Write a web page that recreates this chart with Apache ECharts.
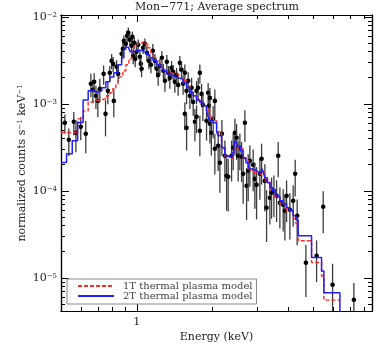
<!DOCTYPE html>
<html>
<head>
<meta charset="utf-8">
<script src="https://cdn.jsdelivr.net/npm/echarts@6/dist/echarts.min.js"></script>
<style>
  html, body { margin: 0; padding: 0; background: #fff; }
  #chart { width: 382px; height: 344px; }
</style>
</head>
<body>
<div id="chart"></div>
<script>
// observed spectrum (keV, counts s^-1 keV^-1, 1-sigma error)
const energy = [
  0.518, 0.537, 0.562, 0.573, 0.599, 0.627, 0.657, 0.669, 0.677, 0.688,
  0.700, 0.713, 0.738, 0.751, 0.767, 0.781, 0.794, 0.805, 0.810, 0.831,
  0.843, 0.870, 0.880, 0.888, 0.904, 0.915, 0.925, 0.938, 0.953, 0.960,
  0.967, 0.977, 0.985, 0.997, 1.012, 1.028, 1.037, 1.044, 1.059, 1.076,
  1.096, 1.116, 1.137, 1.157, 1.179, 1.200, 1.215, 1.234, 1.257, 1.274,
  1.292, 1.315, 1.334, 1.352, 1.373, 1.393, 1.415, 1.437, 1.458, 1.481,
  1.504, 1.526, 1.550, 1.550, 1.575, 1.575, 1.598, 1.623, 1.649, 1.673,
  1.699, 1.725, 1.725, 1.751, 1.778, 1.778, 1.806, 1.828, 1.890, 1.918,
  1.931, 1.949, 1.949, 1.975, 2.008, 2.039, 2.039, 2.102, 2.135, 2.175,
  2.235, 2.270, 2.303, 2.376, 2.411, 2.449, 2.487, 2.523, 2.563, 2.603,
  2.641, 2.683, 2.725, 2.765, 2.808, 2.894, 2.939, 2.985, 3.077, 3.125,
  3.220, 3.271, 3.371, 3.423, 3.497, 3.584, 3.637, 3.694, 3.807, 3.867,
  3.927, 4.047, 4.171, 4.248, 4.326, 4.685, 5.166, 5.487, 5.978, 7.262
];
const flux = [
  6.05e-4, 3.86e-4, 6.21e-4, 4.64e-4, 5.44e-4, 4.52e-4, 1.70e-3, 1.45e-3, 1.79e-3, 1.24e-3,
  1.08e-3, 1.49e-3, 2.21e-3, 7.67e-4, 1.41e-3, 2.27e-3, 3.12e-3, 2.88e-3, 1.08e-3, 2.66e-3,
  2.21e-3, 3.76e-3, 4.29e-3, 5.30e-3, 4.89e-3, 6.05e-3, 6.55e-3, 5.44e-3, 4.64e-3, 5.89e-3,
  3.56e-3, 5.03e-3, 3.29e-3, 3.96e-3, 4.77e-3, 3.47e-3, 2.88e-3, 2.53e-3, 4.40e-3, 4.89e-3,
  3.86e-3, 3.12e-3, 2.81e-3, 4.07e-3, 3.12e-3, 2.53e-3, 2.15e-3, 2.73e-3, 3.38e-3, 2.40e-3,
  1.84e-3, 3.04e-3, 2.27e-3, 1.99e-3, 2.59e-3, 2.33e-3, 1.79e-3, 2.15e-3, 1.65e-3, 2.96e-3,
  2.46e-3, 1.70e-3, 2.27e-3, 7.67e-4, 1.41e-3, 5.30e-4, 1.84e-3, 1.24e-3, 1.53e-3, 1.05e-3,
  6.21e-4, 1.41e-3, 7.09e-4, 1.53e-3, 2.27e-3, 4.89e-4, 1.30e-3, 9.74e-4, 6.38e-4, 1.34e-3,
  9.48e-4, 5.89e-4, 1.17e-3, 4.64e-4, 6.72e-4, 1.08e-3, 3.04e-4, 3.29e-4, 2.10e-4, 4.52e-4,
  2.53e-4, 1.49e-4, 1.45e-4, 2.53e-4, 3.12e-4, 4.64e-4, 4.07e-4, 2.53e-4, 3.12e-4, 2.46e-4,
  1.57e-4, 6.05e-4, 1.14e-4, 1.70e-4, 2.21e-4, 1.99e-4, 1.37e-4, 1.17e-4, 1.57e-4, 2.33e-4,
  1.30e-4, 6.38e-5, 8.31e-5, 9.48e-5, 1.00e-4, 8.76e-5, 2.53e-4, 7.28e-5, 6.90e-5, 5.89e-5,
  8.76e-5, 6.05e-5, 7.67e-5, 1.57e-4, 5.16e-5, 1.49e-5, 1.79e-5, 6.55e-5, 8.31e-6, 5.59e-6
];
const fluxErr = [
  1.51e-4, 1.35e-4, 1.86e-4, 1.86e-4, 1.63e-4, 1.81e-4, 5.1e-4, 4.35e-4, 4.5e-4, 3.7e-4,
  3.8e-4, 4.5e-4, 5.5e-4, 3.45e-4, 4.2e-4, 4.5e-4, 6.2e-4, 5.8e-4, 3.8e-4, 5.3e-4,
  4.4e-4, 7.5e-4, 8.6e-4, 8.0e-4, 7.3e-4, 9.1e-4, 9.8e-4, 8.2e-4, 7.0e-4, 8.8e-4,
  7.1e-4, 7.5e-4, 6.6e-4, 5.9e-4, 7.2e-4, 6.9e-4, 5.8e-4, 5.1e-4, 6.6e-4, 7.3e-4,
  7.7e-4, 6.2e-4, 5.6e-4, 8.1e-4, 6.2e-4, 5.1e-4, 5.4e-4, 5.5e-4, 6.8e-4, 4.8e-4,
  4.6e-4, 6.1e-4, 4.5e-4, 5.0e-4, 5.2e-4, 4.7e-4, 4.5e-4, 4.3e-4, 4.1e-4, 5.9e-4,
  4.9e-4, 4.3e-4, 5.7e-4, 2.7e-4, 4.2e-4, 2.4e-4, 4.6e-4, 3.7e-4, 4.6e-4, 3.2e-4,
  2.5e-4, 4.2e-4, 2.5e-4, 4.6e-4, 5.7e-4, 2.4e-4, 3.9e-4, 3.4e-4, 2.6e-4, 4.0e-4,
  3.3e-4, 2.4e-4, 3.5e-4, 2.1e-4, 2.7e-4, 3.8e-4, 1.5e-4, 1.6e-4, 1.15e-4, 2.0e-4,
  1.25e-4, 9.0e-5, 8.7e-5, 1.25e-4, 1.4e-4, 2.1e-4, 1.8e-4, 1.25e-4, 1.4e-4, 1.2e-4,
  8.6e-5, 2.4e-4, 6.8e-5, 9.4e-5, 1.1e-4, 1.0e-4, 7.5e-5, 7.0e-5, 7.8e-5, 1.15e-4,
  7.2e-5, 3.8e-5, 4.2e-5, 4.7e-5, 5.0e-5, 4.4e-5, 1.1e-4, 3.6e-5, 3.5e-5, 3.2e-5,
  4.4e-5, 3.3e-5, 3.8e-5, 7.1e-5, 2.8e-5, 8.9e-6, 9.0e-6, 3.3e-5, 6.2e-6, 3.1e-6
];

// 1T model, left bin edges (keV) and level
const model1Energy = [
  0.5, 0.582, 0.612, 0.641, 0.663, 0.694, 0.726, 0.758, 0.781, 0.803,
  0.825, 0.841, 0.856, 0.880, 0.904, 0.930, 0.953, 0.969, 0.982, 1.005,
  1.028, 1.066, 1.086, 1.109, 1.137, 1.161, 1.190, 1.234, 1.272, 1.312,
  1.352, 1.393, 1.428, 1.458, 1.481, 1.526, 1.575, 1.623, 1.673, 1.725,
  1.778, 1.833, 1.890, 1.949, 2.008, 2.072, 2.168, 2.235, 2.339, 2.404,
  2.449, 2.523, 2.641, 2.765, 2.894, 3.029, 3.125, 3.220, 3.371, 3.529,
  3.694, 3.927, 4.171, 4.276, 4.366, 4.934, 5.406, 5.522, 6.392
];
const model1Flux = [
  4.68e-4, 6.72e-4, 8.30e-4, 1.05e-3, 1.10e-3, 1.11e-3, 1.16e-3, 1.24e-3, 1.34e-3, 1.49e-3,
  1.65e-3, 1.84e-3, 2.04e-3, 2.40e-3, 2.81e-3, 3.29e-3, 3.76e-3, 4.29e-3, 4.64e-3, 4.96e-3,
  5.16e-3, 5.16e-3, 4.83e-3, 4.40e-3, 3.86e-3, 3.41e-3, 3.08e-3, 2.73e-3, 2.46e-3, 2.33e-3,
  2.24e-3, 2.24e-3, 2.18e-3, 2.10e-3, 1.99e-3, 1.84e-3, 1.61e-3, 1.36e-3, 1.24e-3, 1.14e-3,
  1.03e-3, 9.48e-4, 8.31e-4, 7.09e-4, 6.38e-4, 4.77e-4, 3.04e-4, 2.46e-4, 2.33e-4, 2.73e-4,
  3.47e-4, 3.04e-4, 2.33e-4, 1.74e-4, 1.61e-4, 1.53e-4, 1.65e-4, 1.30e-4, 1.03e-4, 8.53e-5,
  7.09e-5, 5.89e-5, 4.77e-5, 4.18e-5, 2.66e-5, 1.50e-5, 1.05e-5, 5.54e-6, 5.54e-6
];

// 2T model
const model2Energy = [
  0.5, 0.526, 0.554, 0.582, 0.612, 0.641, 0.669, 0.700, 0.726, 0.753,
  0.781, 0.810, 0.841, 0.870, 0.888, 0.904, 0.925, 0.942, 0.964, 1.0,
  1.028, 1.056, 1.096, 1.126, 1.161, 1.200, 1.234, 1.272, 1.312, 1.352,
  1.393, 1.441, 1.481, 1.526, 1.575, 1.623, 1.673, 1.725, 1.778, 1.833,
  1.890, 1.918, 1.949, 2.008, 2.072, 2.102, 2.168, 2.235, 2.297, 2.339,
  2.382, 2.426, 2.449, 2.482, 2.523, 2.575, 2.641, 2.707, 2.765, 2.808,
  2.894, 2.985, 3.049, 3.125, 3.162, 3.220, 3.295, 3.371, 3.45, 3.529,
  3.611, 3.694, 3.797, 3.927, 4.047, 4.171, 4.276, 4.366, 4.934, 5.406,
  5.522, 6.392
];
const model2Flux = [
  2.12e-4, 2.66e-4, 3.76e-4, 6.10e-4, 1.11e-3, 1.41e-3, 1.36e-3, 1.41e-3, 1.53e-3, 1.79e-3,
  2.04e-3, 2.27e-3, 2.81e-3, 3.38e-3, 4.18e-3, 4.46e-3, 4.40e-3, 3.96e-3, 4.07e-3, 4.12e-3,
  4.07e-3, 3.91e-3, 3.66e-3, 3.38e-3, 3.12e-3, 2.84e-3, 2.61e-3, 2.40e-3, 2.21e-3, 2.10e-3,
  2.02e-3, 1.96e-3, 1.91e-3, 1.74e-3, 1.54e-3, 1.36e-3, 1.24e-3, 1.11e-3, 1.05e-3, 9.48e-4,
  8.31e-4, 7.09e-4, 6.38e-4, 6.05e-4, 4.77e-4, 4.29e-4, 3.15e-4, 2.53e-4, 2.40e-4, 2.42e-4,
  2.73e-4, 3.29e-4, 3.76e-4, 3.56e-4, 3.20e-4, 2.88e-4, 2.40e-4, 2.10e-4, 1.89e-4, 1.78e-4,
  1.70e-4, 1.62e-4, 1.70e-4, 1.81e-4, 1.70e-4, 1.41e-4, 1.24e-4, 1.09e-4, 1.00e-4, 9.17e-5,
  8.53e-5, 7.67e-5, 7.09e-5, 6.38e-5, 5.89e-5, 5.16e-5, 4.64e-5, 3.04e-5, 1.71e-5, 1.20e-5,
  6.72e-6, 3.0e-6
];

// tick marks
const xMajorTicks = [1];
const xMinorTicks = [0.6, 0.7, 0.8, 0.9, 2, 3, 4, 5, 6, 7, 8];
const yMajorTicks = [1e-5, 1e-4, 1e-3, 1e-2];
const yMinorTicks = [
  5e-6, 6e-6, 7e-6, 8e-6, 9e-6,
  2e-5, 3e-5, 4e-5, 5e-5, 6e-5, 7e-5, 8e-5, 9e-5,
  2e-4, 3e-4, 4e-4, 5e-4, 6e-4, 7e-4, 8e-4, 9e-4,
  2e-3, 3e-3, 4e-3, 5e-3, 6e-3, 7e-3, 8e-3, 9e-3
];

const FONT = 'DejaVu Serif';
const X_MIN = 0.5, X_MAX = 8.57;
const Y_MIN = 4.15e-6, Y_MAX = 0.0105;

function xAxis(position, ticks, len, withLabel) {
  return {
    type: 'log', logBase: 10, min: X_MIN, max: X_MAX, position: position,
    axisLine: { show: true, onZero: false, lineStyle: { color: '#000', width: 1.2 } },
    splitLine: { show: false },
    axisTick: { show: true, inside: true, length: len, customValues: ticks,
      lineStyle: { color: '#000', width: 1 } },
    axisLabel: withLabel ? {
      show: true, customValues: xMajorTicks, margin: 6,
      fontFamily: FONT, fontSize: 11, color: '#222',
      formatter: v => (Math.abs(v - 1) < 1e-9 ? '1' : '')
    } : { show: false },
    name: withLabel ? 'Energy (keV)' : '',
    nameLocation: 'middle', nameGap: 21, nameMoveOverlap: false,
    nameTextStyle: { fontFamily: FONT, fontSize: 11, color: '#222' }
  };
}

function yAxis(position, ticks, len, withLabel) {
  return {
    type: 'log', logBase: 10, min: Y_MIN, max: Y_MAX, position: position,
    axisLine: { show: true, onZero: false, lineStyle: { color: '#000', width: 1.2 } },
    splitLine: { show: false },
    axisTick: { show: true, inside: true, length: len, customValues: ticks,
      lineStyle: { color: '#000', width: 1 } },
    axisLabel: withLabel ? {
      show: true, customValues: yMajorTicks, margin: 4,
      formatter: v => '{b|10}{s|−' + (-Math.round(Math.log10(v))) + '}',
      rich: {
        b: { fontFamily: FONT, fontSize: 11, color: '#222' },
        s: { fontFamily: FONT, fontSize: 7, color: '#222', verticalAlign: 'top' }
      }
    } : { show: false },
    name: withLabel ? 'normalized counts s{s|−1} keV{s|−1}' : '',
    nameLocation: 'middle', nameGap: 33, nameMoveOverlap: false,
    nameTextStyle: {
      fontFamily: FONT, fontSize: 11, color: '#222',
      rich: {
        s: { fontFamily: FONT, fontSize: 7, color: '#222', verticalAlign: 'top' }
      }
    }
  };
}

const points = energy.map((e, i) => [
  e, flux[i], Math.max(flux[i] - fluxErr[i], 1e-8), flux[i] + fluxErr[i]
]);

const chart = echarts.init(document.getElementById('chart'), null, { renderer: 'canvas' });

chart.setOption({
  animation: false,
  backgroundColor: '#fff',
  title: {
    text: 'Mon−771; Average spectrum',
    left: 135, top: 2, padding: 0,
    textStyle: { fontFamily: FONT, fontSize: 11, fontWeight: 'normal', color: '#222' }
  },
  grid: {
    left: 61, right: 10, top: 15, bottom: 33,
    containLabel: false, outerBoundsMode: 'none'
  },
  legend: {
    orient: 'vertical', left: 67, top: 279,
    itemWidth: 36, itemHeight: 9, itemGap: 0,
    padding: [2, 4, 3, 10],
    borderColor: '#888', borderWidth: 1, backgroundColor: '#fff',
    itemStyle: { opacity: 0 },
    textStyle: { fontFamily: FONT, fontSize: 10, color: '#444', lineHeight: 9, padding: [0, 0, 0, 4] },
    data: ['1T thermal plasma model', '2T thermal plasma model']
  },
  xAxis: [
    xAxis('bottom', xMajorTicks, 7, true),
    xAxis('bottom', xMinorTicks, 4, false),
    xAxis('top', xMajorTicks, 7, false),
    xAxis('top', xMinorTicks, 4, false)
  ],
  yAxis: [
    yAxis('left', yMajorTicks, 8, true),
    yAxis('left', yMinorTicks, 4, false),
    yAxis('right', yMajorTicks, 8, false),
    yAxis('right', yMinorTicks, 4, false)
  ],
  series: [
    {
      name: 'data',
      type: 'custom',
      xAxisIndex: 0, yAxisIndex: 0,
      clip: true,
      z: 2,
      encode: { x: 0, y: 1 },
      data: points,
      renderItem: (params, api) => {
        const p = api.coord([api.value(0), api.value(1)]);
        const lo = api.coord([api.value(0), api.value(2)]);
        const hi = api.coord([api.value(0), api.value(3)]);
        return {
          type: 'group',
          children: [
            { type: 'line', shape: { x1: p[0], y1: hi[1], x2: p[0], y2: lo[1] },
              style: { stroke: '#3c3c3c', lineWidth: 1.3 } },
            { type: 'circle', shape: { cx: p[0], cy: p[1], r: 2.3 },
              style: { fill: '#000' } }
          ]
        };
      }
    },
    {
      name: '1T thermal plasma model',
      type: 'line', step: 'end',
      xAxisIndex: 0, yAxisIndex: 0,
      symbol: 'none', z: 4,
      itemStyle: { color: '#ff2a2a' },
      lineStyle: { color: '#ff2a2a', width: 1.4, type: [4, 2] },
      data: model1Energy.map((e, i) => [e, model1Flux[i]])
    },
    {
      name: '2T thermal plasma model',
      type: 'line', step: 'end',
      xAxisIndex: 0, yAxisIndex: 0,
      symbol: 'none', z: 5,
      itemStyle: { color: '#1e1eff' },
      lineStyle: { color: '#1e1eff', width: 1.5 },
      data: model2Energy.map((e, i) => [e, model2Flux[i]])
    }
  ]
});
</script>
</body>
</html>
